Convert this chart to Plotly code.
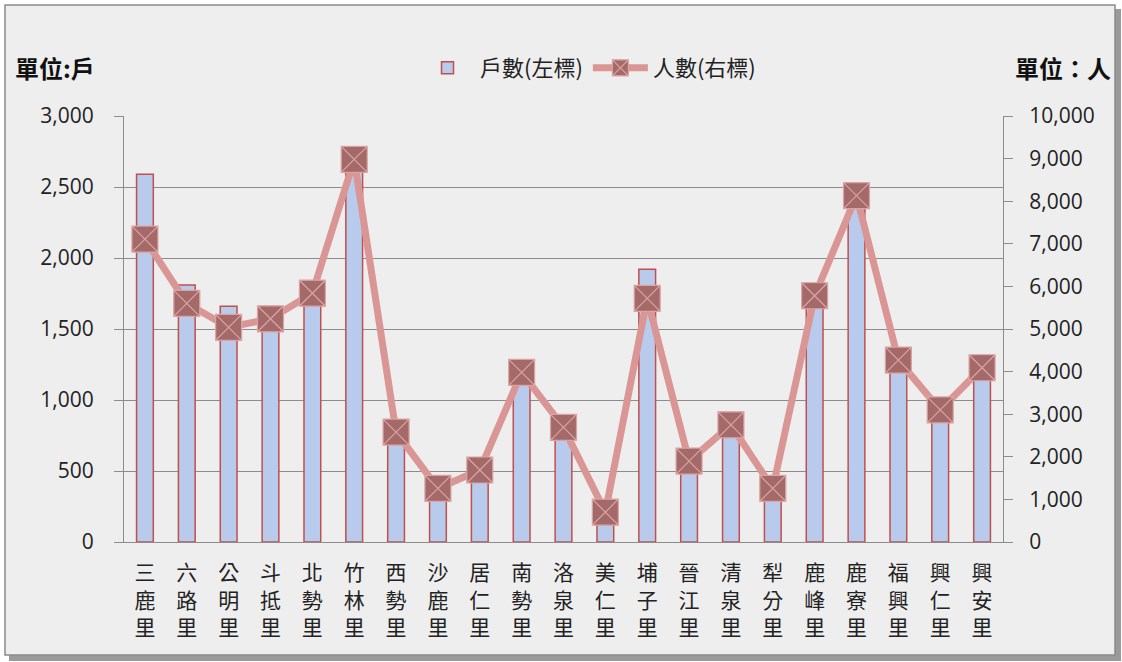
import plotly.graph_objects as go

categories = ["三鹿里", "六路里", "公明里", "斗抵里", "北勢里", "竹林里", "西勢里",
              "沙鹿里", "居仁里", "南勢里", "洛泉里", "美仁里", "埔子里", "晉江里",
              "清泉里", "犁分里", "鹿峰里", "鹿寮里", "福興里", "興仁里", "興安里"]
households = [2590, 1810, 1660, 1560, 1720, 2700, 780, 400, 500, 1150, 790,
              200, 1920, 560, 820, 380, 1720, 2450, 1280, 920, 1230]
population = [7110, 5600, 5040, 5240, 5840, 8980, 2580, 1260, 1690, 3980, 2690,
              700, 5720, 1900, 2750, 1260, 5780, 8130, 4270, 3100, 4090]
left_ticks = [0, 500, 1000, 1500, 2000, 2500, 3000]
right_ticks = [0, 1000, 2000, 3000, 4000, 5000, 6000, 7000, 8000, 9000, 10000]

FONT = "Noto Sans CJK TC"
NUM_FONT = "Open Sans"

tick_text = ["<br>".join(list(c)) for c in categories]

fig = go.Figure()
fig.add_trace(go.Bar(
    x=categories, y=households, name="戶數(左標)",
    marker=dict(color="#b8cbec", line=dict(color="#c0504d", width=1.5)),
    width=0.4, yaxis="y",
))
fig.add_trace(go.Scatter(
    x=categories, y=population, name="人數(右標)", yaxis="y2",
    mode="lines+markers",
    line=dict(color="#d99694", width=7),
    marker=dict(symbol="square-x", size=26, color="#a46a69",
                line=dict(color="#dba4a2", width=1.2)),
))

W, H = 1122, 662
L, R, T, B = 124, 1122 - 1003, 116, 662 - 542
pw, ph = W - L - R, H - T - B

def px_x(px):
    return (px - L) / pw

def px_y(py):
    return (H - B - py) / ph

shapes = [
    # shadow
    dict(type="rect", xref="paper", yref="paper",
         x0=px_x(9), x1=px_x(1121), y0=px_y(661), y1=px_y(9),
         fillcolor="#9a9a9a", line=dict(width=0), layer="below"),
    dict(type="rect", xref="paper", yref="paper",
         x0=px_x(5), x1=px_x(1115), y0=px_y(655), y1=px_y(5),
         fillcolor="#eeeeee", line=dict(color="#8a8a8a", width=1.5), layer="below"),
]

fig.update_layout(
    width=W, height=H,
    margin=dict(l=L, r=R, t=T, b=B, autoexpand=False),
    paper_bgcolor="white",
    plot_bgcolor="rgba(0,0,0,0)",
    shapes=shapes,
    showlegend=True,
    legend=dict(orientation="h", x=px_x(588), xanchor="center", y=px_y(68),
                yanchor="middle", font=dict(family=FONT, size=22, color="#222222"),
                bgcolor="rgba(0,0,0,0)", itemwidth=55),
    bargap=0.6,
    xaxis=dict(
        tickmode="array", tickvals=categories, ticktext=tick_text,
        range=[-0.5, len(categories) - 0.5],
        tickfont=dict(family=FONT, size=21, color="#222222"),
        showline=True, linecolor="#8c8c8c", linewidth=1,
        showgrid=False, ticks="", ticklabelstandoff=12,
    ),
    yaxis=dict(
        range=[0, 3000], tickvals=left_ticks, tickformat=",",
        tickfont=dict(family=NUM_FONT, size=21, color="#222222"),
        showgrid=True, gridcolor="#8c8c8c", gridwidth=1,
        showline=True, linecolor="#8c8c8c", linewidth=1,
        ticks="outside", ticklen=9, tickcolor="#8c8c8c",
        ticklabelstandoff=16, zeroline=False,
    ),
    yaxis2=dict(
        range=[0, 10000], tickvals=right_ticks, tickformat=",",
        overlaying="y", side="right",
        tickfont=dict(family=NUM_FONT, size=21, color="#222222"),
        showgrid=False,
        showline=True, linecolor="#8c8c8c", linewidth=1,
        ticks="outside", ticklen=9, tickcolor="#8c8c8c",
        ticklabelstandoff=12, zeroline=False,
    ),
    annotations=[
        dict(text="<b>單位:戶</b>", xref="paper", yref="paper", x=px_x(13), y=px_y(68),
             xanchor="left", yanchor="middle", showarrow=False,
             font=dict(family=FONT, size=24, color="#111111")),
        dict(text="<b>單位：人</b>", xref="paper", yref="paper", x=px_x(1113), y=px_y(68),
             xanchor="right", yanchor="middle", showarrow=False,
             font=dict(family=FONT, size=24, color="#111111")),
    ],
)

fig.write_html("out.html", config={"displayModeBar": False},
               post_script="document.body.style.margin='0';document.body.style.padding='0';")
